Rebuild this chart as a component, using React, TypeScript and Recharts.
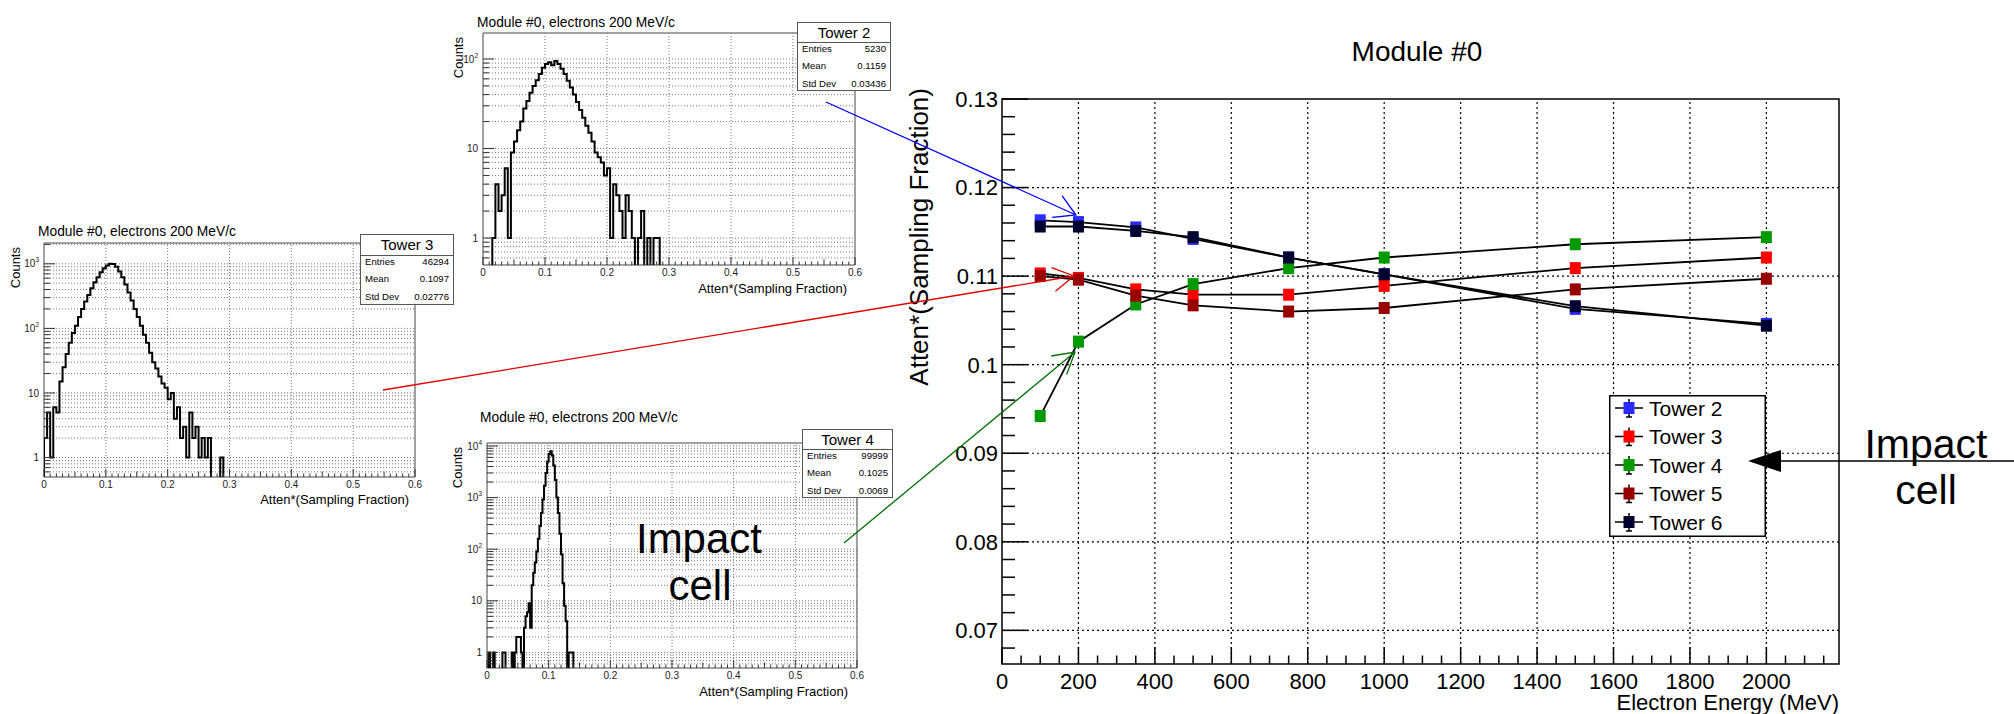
import React from 'react';
import { LineChart, Line, XAxis, YAxis, ReferenceLine, ReferenceArea, Legend } from 'recharts';

const FONT = '"Liberation Sans", Arial, Helvetica, sans-serif';

// ---- main graph: sampling fraction vs beam energy ----
const energies = [100, 200, 350, 500, 750, 1000, 1500, 2000];
const tower2 = [0.1163, 0.1161, 0.1155, 0.1142, 0.1121, 0.1102, 0.1063, 0.1046];
const tower3 = [0.1103, 0.1098, 0.1085, 0.1079, 0.1079, 0.1089, 0.1109, 0.1121];
const tower4 = [0.0942, 0.1026, 0.1068, 0.1091, 0.1109, 0.1121, 0.1136, 0.1144];
const tower5 = [0.11, 0.1096, 0.1078, 0.1067, 0.106, 0.1064, 0.1085, 0.1097];
const tower6 = [0.1156, 0.1156, 0.1151, 0.1144, 0.1121, 0.1102, 0.1066, 0.1044];

const towerNames = ['Tower 2', 'Tower 3', 'Tower 4', 'Tower 5', 'Tower 6'];
const towerKeys = ['t2', 't3', 't4', 't5', 't6'];
const towerColors = ['#2b2bff', '#ff0000', '#009a00', '#990000', '#00002e'];

const energyTicks = [0, 200, 400, 600, 800, 1000, 1200, 1400, 1600, 1800, 2000];
const energyLabels = ['0', '200', '400', '600', '800', '1000', '1200', '1400', '1600', '1800', '2000'];
const fracTicks = [0.07, 0.08, 0.09, 0.1, 0.11, 0.12, 0.13];
const fracLabels = ['0.07', '0.08', '0.09', '0.1', '0.11', '0.12', '0.13'];

// ---- histograms (Atten*sampling fraction, 200 MeV electrons) ----
const h2Start = 0.01;
const h2Width = 0.005;
const h2Counts = [0, 1, 4, 2, 3, 6, 1, 9, 12, 16, 20, 28, 34, 42, 50, 58, 68, 80, 88, 92, 85, 95, 88, 78, 68, 57, 48, 40, 33, 27, 22, 18, 15, 12, 9, 8, 7, 5, 6, 1, 4, 3, 2, 1, 3, 2, 1, 0, 1, 2, 0, 1, 0, 1, 1, 0];

const h3Start = 0;
const h3Width = 0.005;
const h3Counts = [2, 5, 1, 6, 5, 15, 25, 40, 60, 85, 110, 150, 200, 260, 330, 420, 520, 620, 740, 850, 940, 1000, 990, 900, 760, 620, 480, 360, 270, 200, 150, 110, 80, 60, 42, 30, 24, 18, 14, 12, 8, 10, 4, 6, 2, 3, 1, 5, 2, 3, 1, 2, 1, 2, 0, 0, 0, 1, 0];

const h4Start = 0;
const h4Width = 0.0025;
const h4Counts = [0, 1, 0, 0, 1, 0, 0, 0, 0, 0, 1, 1, 0, 0, 0, 0, 1, 0, 1, 2, 2, 2, 1, 0, 3, 5, 6, 9, 3, 20, 35, 55, 90, 160, 280, 500, 920, 1700, 3000, 5000, 7000, 7900, 6500, 4200, 2200, 1000, 500, 200, 80, 22, 8, 4, 0, 1, 1, 1, 0];

const histXTicks = [0, 0.1, 0.2, 0.3, 0.4, 0.5, 0.6];
const histXLabels = ['0', '0.1', '0.2', '0.3', '0.4', '0.5', '0.6'];
const decadeValues = [1, 10, 100, 1000, 10000];
const decadeExp = ['', '', '2', '3', '4'];

const FLOOR = 0.01;

const mainData = energies.map((e, i) => ({
  e,
  t2: tower2[i],
  t3: tower3[i],
  t4: tower4[i],
  t5: tower5[i],
  t6: tower6[i],
}));

const minorEnergy: number[] = [];
for (let v = 0; v <= 2150; v += 50) minorEnergy.push(v);
const minorFrac: number[] = [];
for (let i = 0; i <= 31; i++) minorFrac.push(Math.round((0.068 + i * 0.002) * 1000) / 1000);

const MainYTick = (props: any) => {
  const { x, y, payload } = props;
  const idx = fracTicks.findIndex((t) => Math.abs(t - payload.value) < 1e-6);
  const px = x + 4;
  return (
    <g>
      <line x1={px} x2={px + (idx >= 0 ? 26 : 13)} y1={y} y2={y} stroke="#000" strokeWidth={1.5} />
      {idx >= 0 && (
        <text x={x} y={y} dy="0.36em" textAnchor="end" fontSize={22} fontFamily={FONT} fill="#000">
          {fracLabels[idx]}
        </text>
      )}
    </g>
  );
};

const MainXTick = (props: any) => {
  const { x, y, payload } = props;
  const idx = energyTicks.indexOf(payload.value);
  const by = y - 4;
  return (
    <g>
      <line x1={x} x2={x} y1={by} y2={by - (idx >= 0 ? 17 : 8.5)} stroke="#000" strokeWidth={1.5} />
      {idx >= 0 && (
        <text x={x} y={y + 21} textAnchor="middle" fontSize={22} fontFamily={FONT} fill="#000">
          {energyLabels[idx]}
        </text>
      )}
    </g>
  );
};

const MainLegend = () => (
  <svg width={157} height={142} style={{ display: 'block' }}>
    <rect x={0.75} y={0.75} width={155.5} height={140.5} fill="#fff" stroke="#000" strokeWidth={1.5} />
    {towerNames.map((n, i) => {
      const cy = 13 + i * 28.5;
      return (
        <g key={n}>
          <line x1={6} x2={34} y1={cy} y2={cy} stroke="#000" strokeWidth={1.5} />
          <line x1={20} x2={20} y1={cy - 9} y2={cy + 9} stroke="#000" strokeWidth={1.5} />
          <line x1={17} x2={23} y1={cy + 9} y2={cy + 9} stroke="#000" strokeWidth={1.5} />
          <rect x={14.5} y={cy - 6} width={11} height={12} fill={towerColors[i]} />
          <text x={40} y={cy} dy="0.36em" fontSize={21} fontFamily={FONT} fill="#000">
            {n}
          </text>
        </g>
      );
    })}
  </svg>
);

const MainChart = () => (
  <div style={{ position: 'absolute', left: 880, top: 0 }}>
    <LineChart width={1134} height={714} data={mainData} margin={{ top: 99, right: 175, bottom: 0, left: 0 }}>
      <XAxis
        type="number"
        dataKey="e"
        domain={[0, 2190]}
        allowDataOverflow
        ticks={minorEnergy}
        interval={0}
        tickSize={0}
        tickMargin={4}
        axisLine={false}
        tickLine={false}
        height={50}
        tick={<MainXTick />}
      />
      <YAxis
        type="number"
        domain={[0.0662, 0.13]}
        allowDataOverflow
        ticks={minorFrac}
        interval={0}
        tickSize={0}
        tickMargin={4}
        axisLine={false}
        tickLine={false}
        width={122}
        tick={<MainYTick />}
      />
      {fracTicks.slice(0, -1).map((v) => (
        <ReferenceLine key={`gy${v}`} y={v} stroke="#000" strokeWidth={1.2} strokeDasharray="2 3" />
      ))}
      {energyTicks.slice(1).map((v) => (
        <ReferenceLine key={`gx${v}`} x={v} stroke="#000" strokeWidth={1.2} strokeDasharray="2 3" />
      ))}
      <ReferenceArea x1={0} x2={2190} y1={0.0662} y2={0.13} fill="none" stroke="#000" strokeWidth={1.5} ifOverflow="visible" />
      {towerKeys.map((k, i) => (
        <Line
          key={k}
          type="linear"
          dataKey={k}
          name={towerNames[i]}
          stroke="#000"
          strokeWidth={1.8}
          isAnimationActive={false}
          activeDot={false}
          dot={(p: any) => (
            <rect key={`${k}-${p.index}`} x={p.cx - 5.5} y={p.cy - 6} width={11} height={12} fill={towerColors[i]} />
          )}
        />
      ))}
      <Legend
        layout="vertical"
        align="center"
        verticalAlign="middle"
        content={<MainLegend />}
        wrapperStyle={{ left: 729, top: 395, width: 157, height: 142 }}
      />
    </LineChart>
  </div>
);

// ---- histogram panel ----
type Frame = { l: number; r: number; t: number; b: number };

const buildHist = (start: number, w: number, counts: number[]) => {
  const pts = [{ x: start, c: FLOOR }];
  counts.forEach((c, i) => pts.push({ x: start + i * w, c: c > 0 ? c : FLOOR }));
  pts.push({ x: start + counts.length * w, c: FLOOR });
  return pts;
};

const logTicksFor = (yMax: number) => {
  const out: number[] = [0.6, 0.7, 0.8, 0.9];
  for (let d = 0; d < 5; d++) {
    for (let m = 1; m <= 9; m++) {
      const v = m * Math.pow(10, d);
      if (v <= yMax) out.push(v);
    }
  }
  return out;
};

const HistYTick = (props: any) => {
  const { x, y, payload } = props;
  const di = decadeValues.indexOf(payload.value);
  const px = x + 4;
  return (
    <g>
      <line x1={px} x2={px + (di >= 0 ? 11 : 6)} y1={y} y2={y} stroke="#333" strokeWidth={1} />
      {di >= 0 && (
        <text x={x - 1} y={y} dy="0.36em" textAnchor="end" fontSize={10} fontFamily={FONT} fill="#222">
          {di < 2 ? String(decadeValues[di]) : '10'}
          {di >= 2 && (
            <tspan dy={-5} fontSize={6.5}>
              {decadeExp[di]}
            </tspan>
          )}
        </text>
      )}
    </g>
  );
};

const HistXTick = (props: any) => {
  const { x, y, payload } = props;
  const k = Math.round(payload.value * 100);
  const idx = k % 10 === 0 ? k / 10 : -1;
  const by = y - 4;
  const len = idx >= 0 ? 8 : k % 5 === 0 ? 5.5 : 3.5;
  return (
    <g>
      <line x1={x} x2={x} y1={by} y2={by - len} stroke="#333" strokeWidth={1} />
      {idx >= 0 && (
        <text x={x} y={y + 7} textAnchor="middle" fontSize={10} fontFamily={FONT} fill="#222">
          {histXLabels[idx]}
        </text>
      )}
    </g>
  );
};

const histMinorX: number[] = [];
for (let i = 0; i <= 60; i++) histMinorX.push(i / 100);

type HistProps = {
  frame: Frame;
  start: number;
  width: number;
  counts: number[];
  yMax: number;
  titleX: number;
  titleY: number;
  xTitleRight: number;
  xTitleY: number;
  countsX: number;
};

const PAD_TOP = 10;

const Histogram = ({ frame, start, width, counts, yMax, titleX, titleY, xTitleRight, xTitleY, countsX }: HistProps) => {
  const data = buildHist(start, width, counts);
  const ticks = logTicksFor(yMax);
  const w = frame.r - frame.l + 52;
  const h = frame.b - frame.t + 20 + PAD_TOP;
  return (
    <>
      <div style={{ position: 'absolute', left: frame.l - 40, top: frame.t - PAD_TOP }}>
        <LineChart width={w} height={h} data={data} margin={{ top: PAD_TOP, right: 12, bottom: 0, left: 0 }}>
          <XAxis
            type="number"
            dataKey="x"
            domain={[0, 0.6]}
            allowDataOverflow
            ticks={histMinorX}
            interval={0}
            tickSize={0}
            tickMargin={4}
            axisLine={false}
            tickLine={false}
            height={20}
            tick={<HistXTick />}
          />
          <YAxis
            type="number"
            scale="log"
            domain={[0.5, yMax]}
            allowDataOverflow
            ticks={ticks}
            interval={0}
            tickSize={0}
            tickMargin={4}
            axisLine={false}
            tickLine={false}
            width={40}
            tick={<HistYTick />}
          />
          {ticks.map((v) => (
            <ReferenceLine key={`hy${v}`} y={v} stroke="#777" strokeWidth={1} strokeDasharray="1 2" />
          ))}
          {histXTicks.slice(1, -1).map((v) => (
            <ReferenceLine key={`hx${v}`} x={v} stroke="#777" strokeWidth={1} strokeDasharray="1 2" />
          ))}
          <ReferenceArea x1={0} x2={0.6} y1={0.5} y2={yMax} fill="none" stroke="#444" strokeWidth={1} ifOverflow="visible" />
          <Line type="stepAfter" dataKey="c" stroke="#000" strokeWidth={2} dot={false} activeDot={false} isAnimationActive={false} />
        </LineChart>
      </div>
      <svg width={2014} height={714} style={{ position: 'absolute', left: 0, top: 0, pointerEvents: 'none' }}>
        <text x={titleX} y={titleY} fontSize={13.8} fontFamily={FONT} fill="#000">
          Module #0, electrons 200 MeV/c
        </text>
        <text x={xTitleRight} y={xTitleY} textAnchor="end" fontSize={13} fontFamily={FONT} fill="#000">
          Atten*(Sampling Fraction)
        </text>
        <text
          x={countsX}
          y={frame.t + 4}
          textAnchor="end"
          fontSize={13}
          fontFamily={FONT}
          fill="#000"
          transform={`rotate(-90 ${countsX} ${frame.t + 4})`}
        >
          Counts
        </text>
      </svg>
    </>
  );
};

type StatsProps = { left: number; top: number; w: number; h: number; head: number; name: string; rows: string[][] };

const StatsBox = ({ left, top, w, h, head, name, rows }: StatsProps) => (
  <div
    style={{
      position: 'absolute',
      left,
      top,
      width: w,
      height: h,
      boxSizing: 'border-box',
      border: '1px solid #555',
      background: '#fff',
      fontFamily: FONT,
      color: '#000',
    }}
  >
    <div style={{ height: head, borderBottom: '1px solid #555', textAlign: 'center', fontSize: 15, lineHeight: `${head}px` }}>{name}</div>
    {rows.map((r, i) => (
      <div
        key={r[0]}
        style={{
          position: 'absolute',
          left: 4,
          right: 4,
          top: head + 6.5 + i * 17.5 - 7,
          height: 14,
          lineHeight: '14px',
          display: 'flex',
          justifyContent: 'space-between',
          fontSize: 9.6,
        }}
      >
        <span>{r[0]}</span>
        <span>{r[1]}</span>
      </div>
    ))}
  </div>
);

const arrowPath = (x1: number, y1: number, x2: number, y2: number, len = 24) => {
  const a = Math.atan2(y2 - y1, x2 - x1);
  const ax = x2 - len * Math.cos(a - Math.PI / 6);
  const ay = y2 - len * Math.sin(a - Math.PI / 6);
  const bx = x2 - len * Math.cos(a + Math.PI / 6);
  const by = y2 - len * Math.sin(a + Math.PI / 6);
  return `M${x1},${y1} L${x2},${y2} M${ax},${ay} L${x2},${y2} L${bx},${by}`;
};

const pointers = [
  { x1: 826, y1: 102, x2: 1076, y2: 215, color: '#0000ff' },
  { x1: 383, y1: 390, x2: 1074, y2: 276, color: '#e00000' },
  { x1: 844, y1: 543, x2: 1075, y2: 352, color: '#007000' },
];

export default function App() {
  return (
    <div style={{ position: 'absolute', left: 0, top: 0, width: 2014, height: 714, background: '#fff', overflow: 'hidden', fontFamily: FONT }}>
      <Histogram frame={{ l: 483, r: 855, t: 33, b: 265 }} start={h2Start} width={h2Width} counts={h2Counts} yMax={195} titleX={477} titleY={27} xTitleRight={847} xTitleY={293} countsX={463} />
      <Histogram frame={{ l: 44, r: 415, t: 243, b: 477 }} start={h3Start} width={h3Width} counts={h3Counts} yMax={2100} titleX={38} titleY={236} xTitleRight={409} xTitleY={504} countsX={20} />
      <Histogram frame={{ l: 487, r: 857, t: 443, b: 668 }} start={h4Start} width={h4Width} counts={h4Counts} yMax={11400} titleX={480} titleY={422} xTitleRight={848} xTitleY={696} countsX={462} />

      <StatsBox left={797} top={22} w={94} h={69} head={19} name="Tower 2" rows={[['Entries', '5230'], ['Mean', '0.1159'], ['Std Dev', '0.03436']]} />
      <StatsBox left={360} top={234} w={94} h={71} head={20} name="Tower 3" rows={[['Entries', '46294'], ['Mean', '0.1097'], ['Std Dev', '0.02776']]} />
      <StatsBox left={802} top={429} w={91} h={69} head={19} name="Tower 4" rows={[['Entries', '99999'], ['Mean', '0.1025'], ['Std Dev', '0.0069']]} />

      <MainChart />

      <svg width={2014} height={714} style={{ position: 'absolute', left: 0, top: 0, pointerEvents: 'none' }}>
        <text x={1417} y={61} textAnchor="middle" fontSize={28} fontFamily={FONT} fill="#000">
          Module #0
        </text>
        <text x={928} y={88} textAnchor="end" fontSize={26} fontFamily={FONT} fill="#000" transform="rotate(-90 928 88)">
          Atten*(Sampling Fraction)
        </text>
        <text x={1839} y={710} textAnchor="end" fontSize={22} fontFamily={FONT} fill="#000">
          Electron Energy (MeV)
        </text>
        {pointers.map((p) => (
          <path key={p.color} d={arrowPath(p.x1, p.y1, p.x2, p.y2)} stroke={p.color} strokeWidth={1.3} fill="none" />
        ))}
        <line x1={1780} y1={461} x2={2014} y2={461} stroke="#000" strokeWidth={1.5} />
        <path d="M1748,461 L1781,450 L1781,472 Z" fill="#000" />
        <text x={1926} y={458} textAnchor="middle" fontSize={41} fontFamily={FONT} fill="#000">
          Impact
        </text>
        <text x={1926} y={504} textAnchor="middle" fontSize={41} fontFamily={FONT} fill="#000">
          cell
        </text>
        <text x={699} y={553} textAnchor="middle" fontSize={42} fontFamily={FONT} fill="#000">
          Impact
        </text>
        <text x={700} y={600} textAnchor="middle" fontSize={42} fontFamily={FONT} fill="#000">
          cell
        </text>
      </svg>
    </div>
  );
}
